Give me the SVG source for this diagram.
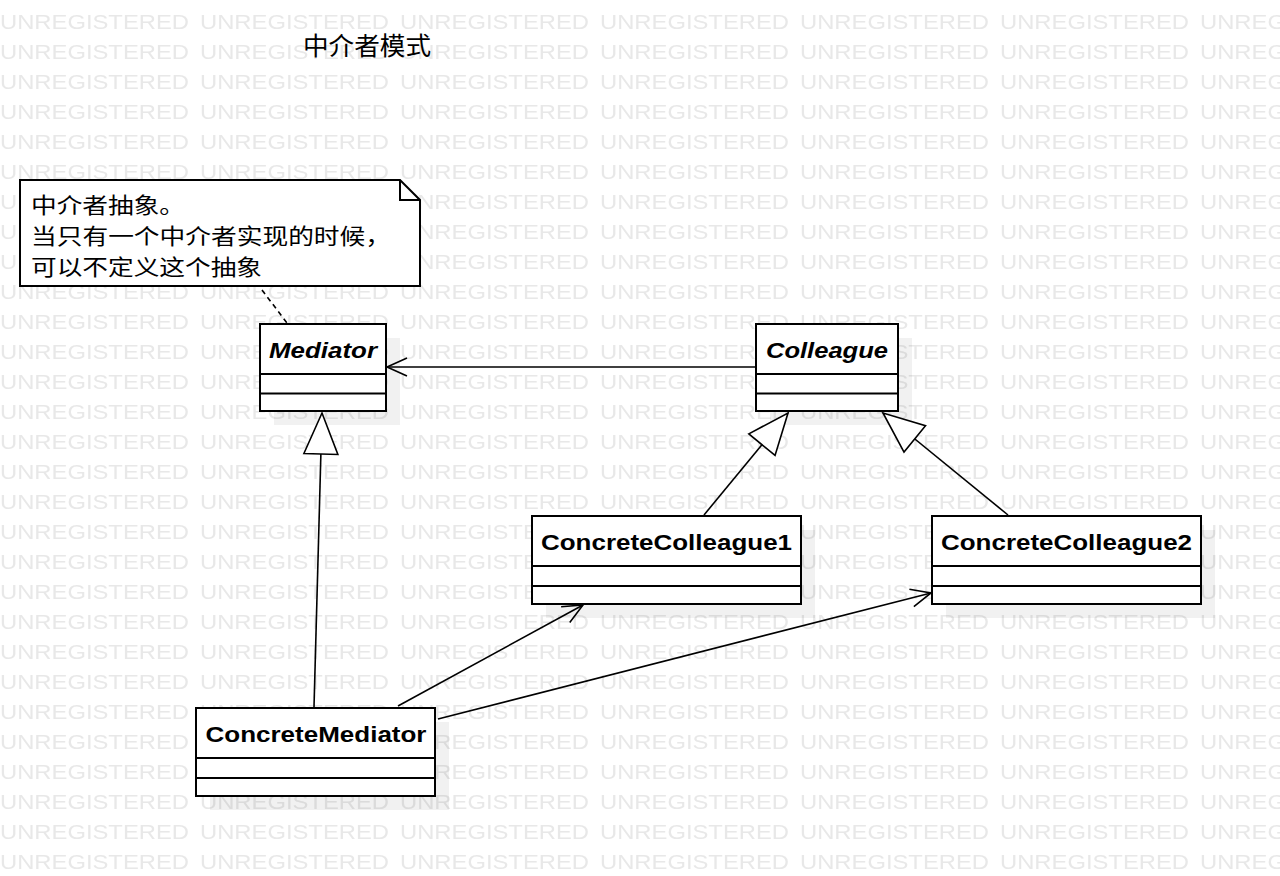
<svg xmlns="http://www.w3.org/2000/svg" width="1280" height="876" viewBox="0 0 1280 876">
  <style>
    .box { fill: #ffffff; stroke: #000000; stroke-width: 2; }
    .div { stroke: #000000; stroke-width: 2; fill: none; }
    .shadow { fill: #000000; fill-opacity: 0.055; }
    .name { font-family: "Liberation Sans", Arial, sans-serif; font-weight: bold; font-size: 22.5px; fill: #000000; text-anchor: middle; }
    .abstract { font-style: italic; }
    .cjk { font-family: "Noto Sans CJK SC", "Liberation Sans", sans-serif; fill: #000000; }
    .wm { font-family: "Liberation Sans", Arial, sans-serif; font-size: 21px; fill: #e8e8e8; }
    .conn { stroke: #000000; stroke-width: 1.6; fill: none; }
    .dash { stroke: #000000; stroke-width: 1.6; fill: none; stroke-dasharray: 5 4; }
  </style>
  <defs>
    <pattern id="watermark" patternUnits="userSpaceOnUse" x="0" y="0" width="200" height="30">
      <text class="wm" x="0" y="29" textLength="189" lengthAdjust="spacingAndGlyphs">UNREGISTERED</text>
    </pattern>
    <marker id="open" markerUnits="userSpaceOnUse" viewBox="-25 -15 30 30" refX="0" refY="0" markerWidth="30" markerHeight="30" orient="auto" overflow="visible">
      <path d="M-20,-9 L0,0 L-20,9" fill="none" stroke="#000000" stroke-width="1.6"/>
    </marker>
    <marker id="gen" markerUnits="userSpaceOnUse" viewBox="-45 -20 50 40" refX="0" refY="0" markerWidth="50" markerHeight="40" orient="auto" overflow="visible">
      <path d="M-41,-17 L0,0 L-41,17 Z" fill="#ffffff" stroke="#000000" stroke-width="1.6"/>
    </marker>
  </defs>

  <rect x="0" y="0" width="1280" height="876" fill="#ffffff"/>
  <rect x="0" y="0" width="1280" height="876" fill="url(#watermark)"/>

  <g id="title">
    <text class="cjk" x="303" y="55" font-size="25" textLength="128" lengthAdjust="spacingAndGlyphs">中介者模式</text>
  </g>

  <g id="shadows">
    <rect class="shadow" x="274" y="338" width="126" height="87"/>
    <rect class="shadow" x="770" y="338" width="142" height="87"/>
    <rect class="shadow" x="546" y="530" width="269" height="88"/>
    <rect class="shadow" x="946" y="530" width="269" height="88"/>
    <rect class="shadow" x="210" y="722" width="239" height="88"/>
  </g>

  <g id="note">
    <path class="box" d="M20,180 H400 L420,200 V286 H20 Z"/>
    <path class="div" d="M400,180 V200 H420"/>
    <text class="cjk" font-size="21.3"><tspan x="31" y="212.5" textLength="154" lengthAdjust="spacingAndGlyphs">中介者抽象。</tspan><tspan x="31" y="243.5" textLength="360" lengthAdjust="spacingAndGlyphs">当只有一个中介者实现的时候，</tspan><tspan x="31" y="274.5" textLength="231" lengthAdjust="spacingAndGlyphs">可以不定义这个抽象</tspan></text>
  </g>

  <g id="connectors">
    <line class="dash" x1="262" y1="290" x2="287" y2="323"/>
    <line class="conn" x1="756" y1="367" x2="387" y2="367" marker-end="url(#open)"/>
    <line class="conn" x1="314" y1="707" x2="322" y2="413" marker-end="url(#gen)"/>
    <line class="conn" x1="704" y1="515" x2="788" y2="413" marker-end="url(#gen)"/>
    <line class="conn" x1="1008" y1="515" x2="883" y2="413" marker-end="url(#gen)"/>
    <line class="conn" x1="398" y1="706" x2="583" y2="605" marker-end="url(#open)"/>
    <line class="conn" x1="438" y1="719" x2="931" y2="593" marker-end="url(#open)"/>
  </g>

  <g id="Mediator">
    <rect class="box" x="260" y="324" width="126" height="87"/>
    <path class="div" d="M260,374 H386 M260,393.5 H386"/>
    <text class="name abstract" x="323" y="357.5" textLength="108" lengthAdjust="spacingAndGlyphs">Mediator</text>
  </g>

  <g id="Colleague">
    <rect class="box" x="756" y="324" width="142" height="87"/>
    <path class="div" d="M756,374 H898 M756,393.5 H898"/>
    <text class="name abstract" x="827" y="357.5" textLength="122" lengthAdjust="spacingAndGlyphs">Colleague</text>
  </g>

  <g id="ConcreteColleague1">
    <rect class="box" x="532" y="516" width="269" height="88"/>
    <path class="div" d="M532,566 H801 M532,586 H801"/>
    <text class="name" x="666.5" y="549.5" textLength="251" lengthAdjust="spacingAndGlyphs">ConcreteColleague1</text>
  </g>

  <g id="ConcreteColleague2">
    <rect class="box" x="932" y="516" width="269" height="88"/>
    <path class="div" d="M932,566 H1201 M932,586 H1201"/>
    <text class="name" x="1066.5" y="549.5" textLength="251" lengthAdjust="spacingAndGlyphs">ConcreteColleague2</text>
  </g>

  <g id="ConcreteMediator">
    <rect class="box" x="196" y="708" width="239" height="88"/>
    <path class="div" d="M196,758 H435 M196,778 H435"/>
    <text class="name" x="316" y="741.5" textLength="221" lengthAdjust="spacingAndGlyphs">ConcreteMediator</text>
  </g>
</svg>
